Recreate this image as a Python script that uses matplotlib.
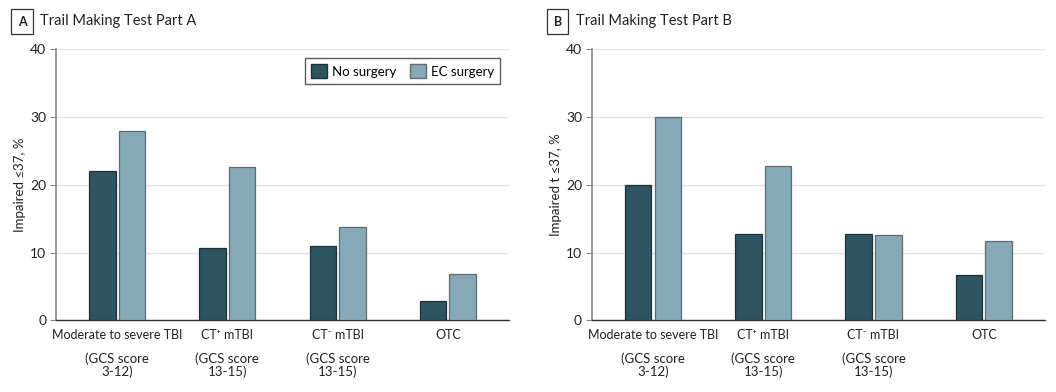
import numpy as np
import matplotlib
matplotlib.use("Agg")
import matplotlib.pyplot as plt
from matplotlib.patches import Patch

plt.rcParams['font.family'] = ['Lato', 'DejaVu Sans']

# data
groups = ["Moderate to severe TBI", "CT\u207a mTBI", "CT\u207b mTBI", "OTC"]
sublabels = ["(GCS score\n3-12)", "(GCS score\n13-15)", "(GCS score\n13-15)", ""]
part_a_no = [22.0, 10.7, 10.9, 2.8]
part_a_ec = [27.9, 22.7, 13.8, 6.9]
part_b_no = [20.0, 12.7, 12.8, 6.7]
part_b_ec = [30.0, 22.8, 12.6, 11.7]

dark = "#2e5461"
light = "#86a9b7"
W, H = 1056, 392

fig = plt.figure(figsize=(W / 100, H / 100), dpi=100)


def panel(x0, x1, letter, title, ylabel, no, ec, legend=False):
    bottom = (H - 320.3) / H
    top = (H - 49.3) / H
    ax = fig.add_axes([x0 / W, bottom, (x1 - x0) / W, top - bottom])
    x = np.arange(len(groups))
    w = 0.24
    off = 0.135
    ax.bar(x - off, no, w, color=dark, edgecolor="#1c323a", linewidth=0.9, zorder=3)
    ax.bar(x + off, ec, w, color=light, edgecolor="#5f6b70", linewidth=0.9, zorder=3)
    ax.set_xlim(-0.555, 3.555)
    ax.set_ylim(0, 40)
    ax.set_yticks([0, 10, 20, 30, 40])
    ax.yaxis.grid(True, color="#e3e3e3", linewidth=1.0, zorder=0)
    ax.set_axisbelow(True)
    for s in ["top", "right"]:
        ax.spines[s].set_visible(False)
    ax.spines["left"].set_color("#8a8a8a")
    ax.spines["left"].set_linewidth(1.2)
    ax.spines["bottom"].set_color("#333333")
    ax.spines["bottom"].set_linewidth(1.0)
    ax.tick_params(axis="y", length=4, color="#8a8a8a", labelsize=10,
                   labelcolor="#222222", pad=3)
    ax.tick_params(axis="x", length=0, labelsize=9, labelcolor="#222222", pad=6)
    ax.set_xticks(x)
    ax.set_xticklabels(groups)
    for xi, s in zip(x, sublabels):
        if s:
            ax.annotate(s, xy=(xi, 0), xycoords=("data", "axes fraction"),
                        xytext=(0, -23), textcoords="offset points",
                        ha="center", va="top", fontsize=9.5, color="#222222",
                        linespacing=1.05)
    ax.set_ylabel(ylabel, fontsize=9.5, color="#222222", labelpad=3)

    # panel letter box and title
    fig.text((x0 - 34) / W, (H - 21.5) / H, letter, fontsize=9, fontweight="bold",
             ha="center", va="center", color="#222222",
             bbox=dict(boxstyle="square,pad=0.5", fc="white", ec="#333333", lw=0.9))
    fig.text((x0 - 16) / W, (H - 21.5) / H, title, fontsize=10.5, ha="left",
             va="center", color="#222222")

    if legend:
        handles = [Patch(facecolor=dark, edgecolor="#1c323a", label="No surgery"),
                   Patch(facecolor=light, edgecolor="#5f6b70", label="EC surgery")]
        leg = ax.legend(handles=handles, loc="upper right", ncol=2, fontsize=9.5,
                        frameon=True, fancybox=False, edgecolor="#333333",
                        handlelength=1.25, handleheight=1.25, handletextpad=0.35,
                        columnspacing=1.0, borderpad=0.45, borderaxespad=0,
                        bbox_to_anchor=(0.98, 0.967))
        leg.get_frame().set_linewidth(1.0)
    return ax


panel(56, 509, "A", "Trail Making Test Part A", "Impaired \u226437, %",
      part_a_no, part_a_ec, legend=True)
panel(591.7, 1045, "B", "Trail Making Test Part B", "Impaired t \u226437, %",
      part_b_no, part_b_ec)

fig.savefig("out.png", dpi=100, facecolor="white")
